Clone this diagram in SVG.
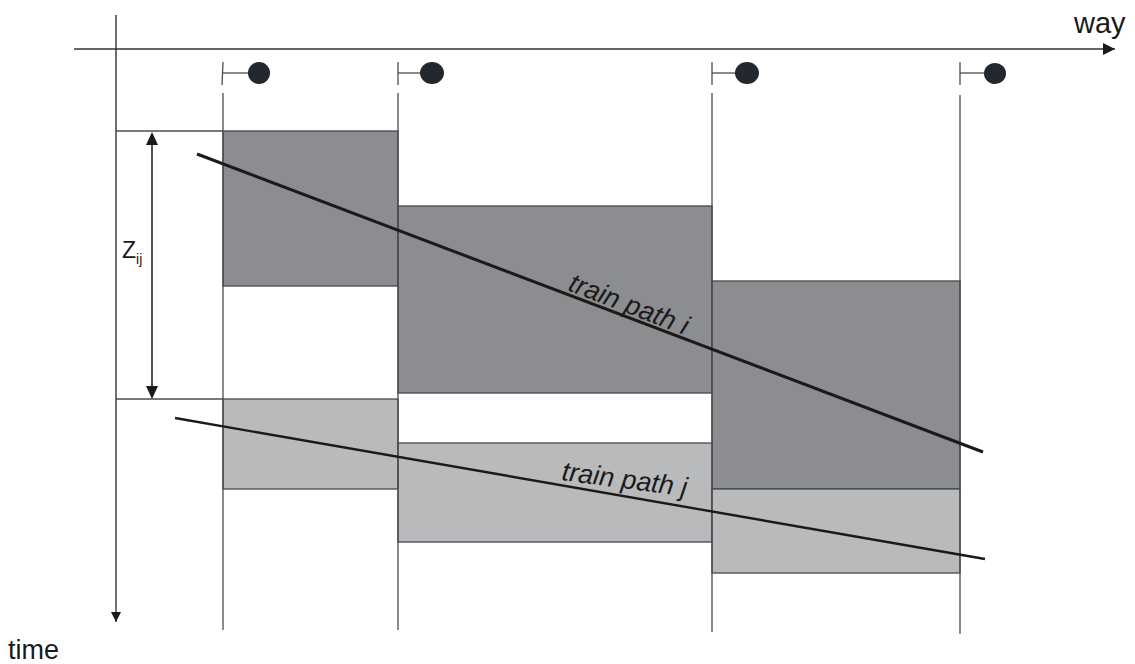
<svg xmlns="http://www.w3.org/2000/svg" width="1135" height="664" viewBox="0 0 1135 664">
<style>
.ax{stroke:#333;stroke-width:1.4;fill:none}
.thin{stroke:#4d4d4d;stroke-width:1.3;fill:none}
.dark{fill:#8c8d91;stroke:#44474c;stroke-width:1.3}
.light{fill:#b9babc;stroke:#44474c;stroke-width:1.3}
.path{stroke:#1a1a1a;stroke-width:3;fill:none}
.pathj{stroke:#1a1a1a;stroke-width:2.4;fill:none}
.sig{fill:#23272e}
.t{font-family:"Liberation Sans",Arial,sans-serif;fill:#1a1a1a}
</style>
<defs>
<marker id="ah" viewBox="0 0 10 10" refX="10" refY="5" markerWidth="10" markerHeight="10" markerUnits="userSpaceOnUse" orient="auto">
<path d="M0,0 L10,5 L0,10 Z" fill="#1a1a1a"/>
</marker>
<marker id="ah2" viewBox="0 0 10 10" refX="10" refY="5" markerWidth="16" markerHeight="12" markerUnits="userSpaceOnUse" orient="auto">
<path d="M0,0 L10,5 L0,10 Z" fill="#1a1a1a"/>
</marker>
</defs>
<g id="boxes">
<rect class="dark" x="223" y="131" width="175" height="155"/>
<rect class="dark" x="398" y="206" width="314" height="187"/>
<rect class="dark" x="712" y="281" width="248" height="208"/>
<rect class="light" x="223" y="399" width="175" height="90"/>
<rect class="light" x="398" y="443" width="314" height="99"/>
<rect class="light" x="712" y="489" width="248" height="84"/>
</g>
<g id="grid">
<line class="thin" x1="223" y1="93" x2="223" y2="630"/>
<line class="thin" x1="398" y1="93" x2="398" y2="630"/>
<line class="thin" x1="712" y1="93" x2="712" y2="632"/>
<line class="thin" x1="960" y1="95" x2="960" y2="634"/>
<line class="thin" x1="116" y1="131" x2="223" y2="131"/>
<line class="thin" x1="116" y1="399" x2="223" y2="399"/>
</g>
<g id="signals">
<line class="thin" x1="223" y1="62" x2="222" y2="85"/><line class="thin" x1="223" y1="73" x2="250" y2="73"/><ellipse class="sig" cx="259" cy="73" rx="11" ry="11"/>
<line class="thin" x1="398" y1="62" x2="398" y2="85"/><line class="thin" x1="398" y1="73" x2="422" y2="73"/><ellipse class="sig" cx="432" cy="73" rx="12" ry="11"/>
<line class="thin" x1="712" y1="62" x2="712" y2="85"/><line class="thin" x1="712" y1="73" x2="737" y2="73"/><ellipse class="sig" cx="747" cy="73" rx="12" ry="11"/>
<line class="thin" x1="960" y1="62" x2="960" y2="85"/><line class="thin" x1="960" y1="73" x2="985" y2="73"/><ellipse class="sig" cx="995" cy="73.5" rx="11" ry="10.5"/>
</g>
<g id="axes">
<line class="ax" x1="116" y1="15" x2="116" y2="622" marker-end="url(#ah)"/>
<line class="ax" x1="74" y1="49" x2="1115" y2="49" marker-end="url(#ah2)"/>
<text class="t" x="1074" y="33" font-size="29">way</text>
<text class="t" x="8" y="659" font-size="27">time</text>
</g>
<g id="zij">
<line stroke="#1a1a1a" stroke-width="1.5" x1="152" y1="145" x2="152" y2="386"/>
<path d="M152,132 L146,145 L158,145 Z" fill="#1a1a1a"/>
<path d="M152,399 L146,386 L158,386 Z" fill="#1a1a1a"/>
<text class="t" x="122" y="258" font-size="23">Z<tspan font-size="14" dy="6">ij</tspan></text>
</g>
<g id="train-paths">
<line class="path" x1="197" y1="154" x2="983" y2="452"/>
<line class="pathj" x1="175" y1="418" x2="985" y2="559"/>
<text class="t" font-size="27" font-style="italic" transform="translate(567,290) rotate(21)">train path i</text>
<text class="t" font-size="27" font-style="italic" transform="translate(561,480) rotate(7.5)">train path j</text>
</g>
</svg>
